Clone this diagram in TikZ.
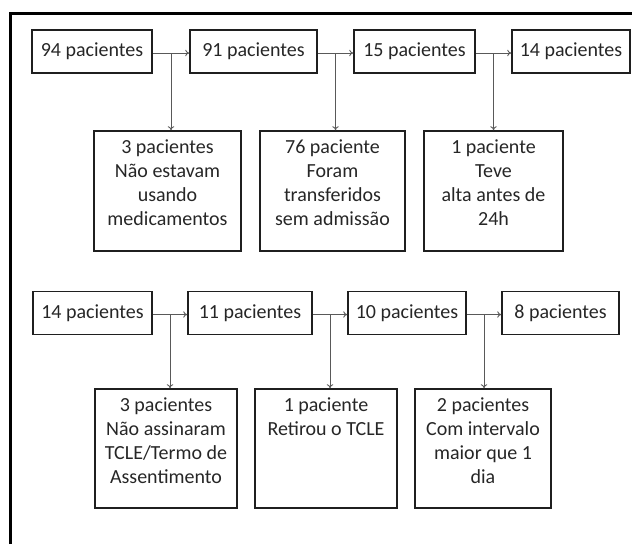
\documentclass[tikz,border=0pt]{standalone}
\usepackage{fontspec}
\setmainfont{Carlito}
\usetikzlibrary{arrows.meta,calc}

% text block for the tall boxes: lines hang from the top edge
\newcommand{\tallcell}[3]{\parbox[c][#1][t]{#2}{\centering\vspace*{6pt}\strut #3\strut}}

\begin{document}
\begin{tikzpicture}[x=1pt,y=-1pt,
  stage/.style={draw=black!88, line width=1.6pt, inner sep=0pt, text=black!85,
    font=\fontsize{20}{24}\selectfont, minimum height=43pt},
  reason/.style={stage, minimum height=120pt},
  flow/.style={draw=black!65, line width=0.9pt, -{To[length=4pt,width=6.5pt]}},
  frame/.style={draw=black, line width=3pt}
]
\useasboundingbox (0,0) rectangle (632,544);

% outer frame (top and left edges)
\draw[frame] (10.5,544) -- (10.5,13.5) -- (632,13.5);

% ---- first stage row ----
\node[stage, minimum width=120pt] (a1) at (92,51.5)    {94 pacientes};
\node[stage, minimum width=127pt] (a2) at (253.5,51.5) {91 pacientes};
\node[stage, minimum width=121pt] (a3) at (414.5,51.5) {15 pacientes};
\node[stage, minimum width=118pt] (a4) at (571,51.5)   {14 pacientes};

\node[reason, minimum width=147pt] (x1) at (167.5,191)
  {\tallcell{120pt}{147pt}{3 pacientes\\Não estavam\\usando\\medicamentos}};
\node[reason, minimum width=145pt] (x2) at (332.5,191)
  {\tallcell{120pt}{145pt}{76 paciente\\Foram\\transferidos\\sem admissão}};
\node[reason, minimum width=139pt] (x3) at (493.5,191)
  {\tallcell{120pt}{139pt}{1 paciente\\Teve\\alta antes de\\24h}};

% ---- second stage row ----
\node[stage, minimum width=119pt] (b1) at (92.5,313) {14 pacientes};
\node[stage, minimum width=124pt] (b2) at (250,313)  {11 pacientes};
\node[stage, minimum width=118pt] (b3) at (407,313)  {10 pacientes};
\node[stage, minimum width=117pt] (b4) at (560.5,313) {8 pacientes};

\node[reason, minimum width=142pt, minimum height=119pt] (y1) at (166,448.5)
  {\tallcell{119pt}{142pt}{3 pacientes\\Não assinaram\\TCLE/Termo de\\Assentimento}};
\node[reason, minimum width=142pt, minimum height=119pt] (y2) at (326,448.5)
  {\tallcell{119pt}{142pt}{1 paciente\\Retirou o TCLE}};
\node[reason, minimum width=136pt, minimum height=119pt] (y3) at (483,448.5)
  {\tallcell{119pt}{136pt}{2 pacientes\\Com intervalo\\maior que 1\\dia}};

% ---- connectors ----
\foreach \p/\q/\r in {a1/a2/x1, a2/a3/x2, a3/a4/x3, b1/b2/y1, b2/b3/y2, b3/b4/y3}{
  \draw[flow] ([yshift=-1.5pt]\p.east) -- ([yshift=-1.5pt]\q.west);
  \coordinate (split) at ($([yshift=-1.5pt]\p.east)!0.5!([yshift=-1.5pt]\q.west)$);
  \draw[flow] (split) -- (split |- \r.north);
}
\end{tikzpicture}
\end{document}
